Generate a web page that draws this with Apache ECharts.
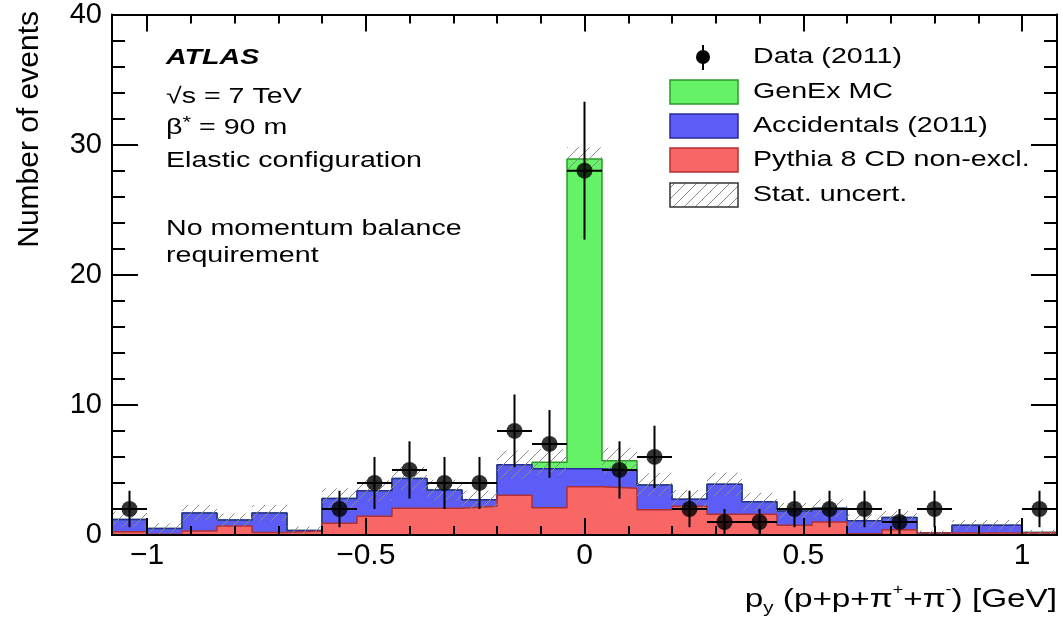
<!DOCTYPE html>
<html>
<head>
<meta charset="utf-8">
<script src="https://cdn.jsdelivr.net/npm/echarts@6/dist/echarts.min.js"></script>
<style>
html, body { margin: 0; padding: 0; background: #fff; }
#chart { width: 1063px; height: 623px; }
</style>
</head>
<body>
<div id="chart"></div>
<script>
// bin centres of the p_y histogram, bin width 0.08 GeV
var binCenters = [-1.04, -0.96, -0.88, -0.80, -0.72, -0.64, -0.56, -0.48, -0.40, -0.32, -0.24, -0.16, -0.08, 0,
                  0.08, 0.16, 0.24, 0.32, 0.40, 0.48, 0.56, 0.64, 0.72, 0.80, 0.88, 0.96, 1.04];
var binWidth = 0.08;

// stacked MC contributions (bottom to top)
var pythiaCD    = [0.25, 0.05, 0.3, 0.7, 0.2, 0.3, 0.9, 1.45, 2.05, 2.05, 2.2, 3.05, 2.1, 3.7,
                   3.6, 1.95, 2.2, 1.6, 1.6, 0.75, 1.0, 0.1, 0.4, 0.15, 0.15, 0.15, 0.2];
var accidentals = [0.95, 0.45, 1.4, 0.45, 1.5, 0.05, 1.9, 1.95, 2.3, 1.4, 0.5, 2.35, 3.0, 1.4,
                   1.4, 1.9, 0.55, 2.3, 0.95, 1.1, 1.05, 1.0, 0.95, 0.0, 0.6, 0.6, 0.0];
var genexMC     = [0, 0, 0, 0, 0, 0, 0, 0, 0, 0, 0, 0, 0.5, 23.8,
                   0.7, 0, 0, 0, 0, 0, 0, 0, 0, 0, 0, 0, 0];
var statUncert  = [0.6, 0.4, 0.6, 0.5, 0.6, 0.3, 0.8, 0.8, 0.9, 0.8, 0.7, 1.1, 1.0, 0.9,
                   1.0, 0.9, 0.7, 0.9, 0.7, 0.6, 0.7, 0.5, 0.5, 0.2, 0.4, 0.4, 0.2];

// data (2011)
var dataCounts  = [2, 0, 0, 0, 0, 0, 2, 4, 5, 4, 4, 8, 7, 28,
                   5, 6, 2, 1, 1, 2, 2, 2, 1, 2, 0, 0, 2];
var dataErrors  = [1.4, 0, 0, 0, 0, 0, 1.4, 2, 2.2, 2, 2, 2.8, 2.6, 5.3,
                   2.2, 2.4, 1.4, 1, 1, 1.4, 1.4, 1.4, 1, 1.4, 0, 0, 1.4];

var xMajorTicks = [-1, -0.5, 0, 0.5, 1];
var xMinorTicks = [-1, -0.9, -0.8, -0.7, -0.6, -0.5, -0.4, -0.3, -0.2, -0.1, 0,
                   0.1, 0.2, 0.3, 0.4, 0.5, 0.6, 0.7, 0.8, 0.9, 1];

var FONT = '"Liberation Sans", Arial, Helvetica, sans-serif';
var colGreen = '#66f266', colBlue = '#5c5cf6', colRed = '#f86666';

// hatch pattern for the stat. uncertainty band
var hatch = (function () {
    var c = document.createElement('canvas');
    c.width = 11; c.height = 11;
    var ctx = c.getContext('2d');
    ctx.strokeStyle = '#8a8a8a';
    ctx.lineWidth = 1;
    ctx.beginPath();
    ctx.moveTo(0, 11); ctx.lineTo(11, 0);
    ctx.moveTo(-1, 1); ctx.lineTo(1, -1);
    ctx.moveTo(10, 12); ctx.lineTo(12, 10);
    ctx.stroke();
    return { image: c, repeat: 'repeat' };
})();

// cumulative stacks
var cumRed = [], cumBlue = [], cumGreen = [];
for (var i = 0; i < binCenters.length; i++) {
    cumRed.push(pythiaCD[i]);
    cumBlue.push(pythiaCD[i] + accidentals[i]);
    cumGreen.push(pythiaCD[i] + accidentals[i] + genexMC[i]);
}

function stepData(vals) {
    var out = binCenters.map(function (c, i) { return [c - binWidth / 2, vals[i]]; });
    out.push([binCenters[binCenters.length - 1] + binWidth / 2, vals[vals.length - 1]]);
    return out;
}

function histSeries(name, vals, fill, line) {
    return {
        name: name, type: 'line', step: 'end', data: stepData(vals),
        symbol: 'none', silent: true, z: 2,
        lineStyle: { color: line, width: 1.5 },
        areaStyle: { color: fill, opacity: 1 }
    };
}

var bandData = binCenters.map(function (c, i) {
    return [c, cumGreen[i] - statUncert[i], cumGreen[i] + statUncert[i]];
});
var pointData = [], errData = [];
binCenters.forEach(function (c, i) {
    if (dataCounts[i] > 0) {
        pointData.push([c, dataCounts[i]]);
        errData.push([c, dataCounts[i], dataErrors[i]]);
    }
});

function txt(x, y, text, extra) {
    var st = { text: text, fontFamily: FONT, fontSize: 22, fill: '#000', align: 'left', verticalAlign: 'middle' };
    for (var k in (extra && extra.style || {})) st[k] = extra.style[k];
    var el = { type: 'text', x: x, y: y, scaleX: 1.3, style: st, z: 20 };
    if (extra) { for (var k2 in extra) if (k2 !== 'style') el[k2] = extra[k2]; }
    return el;
}

var legendRects = [
    { y: 92, fill: colGreen, stroke: '#2a9a2a', label: 'GenEx MC' },
    { y: 126, fill: colBlue, stroke: '#2a2aa0', label: 'Accidentals (2011)' },
    { y: 160, fill: colRed, stroke: '#b03030', label: 'Pythia 8 CD non-excl.' },
    { y: 195, fill: hatch, stroke: '#333', label: 'Stat. uncert.' }
];
var graphics = [
    txt(166, 58, 'ATLAS', { style: { fontWeight: 'bold', fontStyle: 'italic' } }),
    txt(166, 97, '{t|√s = 7 TeV}', { style: { rich: { t: { fontFamily: FONT, fontSize: 22 } } } }),
    txt(166, 128, '{t|β}{u|*}{t| = 90 m}', { style: { rich: {
        t: { fontFamily: FONT, fontSize: 22, lineHeight: 26 },
        u: { fontFamily: FONT, fontSize: 17, lineHeight: 26, verticalAlign: 'top' } } } }),
    txt(166, 161, 'Elastic configuration'),
    txt(166, 229, 'No momentum balance'),
    txt(166, 256, 'requirement'),
    // x-axis title
    txt(1057, 600, '{t|p}{sub|y}{t| (p+p+π}{sup|+}{t|+π}{sup|-}{t|) [GeV]}', { style: {
        align: 'right',
        rich: {
            t: { fontFamily: FONT, fontSize: 26, lineHeight: 34 },
            sub: { fontFamily: FONT, fontSize: 16, lineHeight: 10, verticalAlign: 'bottom' },
            sup: { fontFamily: FONT, fontSize: 14, lineHeight: 30, verticalAlign: 'top' }
        } }, scaleX: 1.28 }),
    // y-axis title
    { type: 'text', x: 30, y: 11, rotation: Math.PI / 2, z: 20,
      style: { text: 'Number of events', fontFamily: FONT, fontSize: 30, fill: '#000', align: 'right', verticalAlign: 'middle' } },
    // legend: data marker
    { type: 'line', z: 20, shape: { x1: 703, y1: 45, x2: 703, y2: 70 }, style: { stroke: '#000', lineWidth: 2 } },
    { type: 'circle', z: 20, shape: { cx: 703, cy: 57, r: 7 }, style: { fill: '#000' } },
    txt(753, 57, 'Data (2011)')
];
legendRects.forEach(function (r) {
    graphics.push({ type: 'rect', z: 20, shape: { x: 670, y: r.y - 12, width: 68, height: 24 },
                    style: { fill: r.fill, stroke: r.stroke, lineWidth: 1.5 } });
    graphics.push(txt(753, r.y, r.label));
});

var axisLineStyle = { color: '#000', width: 2 };
function xAxisDef(pos, ticks, len, labels) {
    return {
        type: 'value', min: -1.08, max: 1.08, position: pos, z: 10,
        axisLine: { show: true, onZero: false, lineStyle: axisLineStyle },
        axisTick: { show: true, inside: true, length: len, customValues: ticks, lineStyle: { color: '#000', width: 2 } },
        axisLabel: labels ? {
            show: true, customValues: ticks, fontFamily: FONT, fontSize: 30, color: '#000', margin: 6,
            formatter: function (v) { return String(v).replace('-', '\u2212'); }
        } : { show: false },
        splitLine: { show: false }
    };
}
function yAxisDef(pos, labels) {
    return {
        type: 'value', min: 0, max: 40, interval: 10, position: pos, z: 10,
        axisLine: { show: true, onZero: false, lineStyle: axisLineStyle },
        axisTick: { show: true, inside: true, length: 26, lineStyle: { color: '#000', width: 2 } },
        minorTick: { show: true, splitNumber: 5, length: 13, lineStyle: { color: '#000', width: 2 } },
        axisLabel: labels ? { show: true, fontFamily: FONT, fontSize: 29, color: '#000', margin: 10 } : { show: false },
        splitLine: { show: false }, minorSplitLine: { show: false }
    };
}

var chart = echarts.init(document.getElementById('chart'));
chart.setOption({
    animation: false,
    backgroundColor: '#fff',
    grid: { left: 112, right: 6, top: 13, bottom: 88, containLabel: false },
    xAxis: [
        xAxisDef('bottom', xMajorTicks, 17, true),
        xAxisDef('bottom', xMinorTicks, 9, false),
        xAxisDef('top', xMajorTicks, 17, false),
        xAxisDef('top', xMinorTicks, 9, false)
    ],
    yAxis: [yAxisDef('left', true), yAxisDef('right', false)],
    series: [
        histSeries('GenEx MC', cumGreen, colGreen, '#2a9a2a'),
        histSeries('Accidentals (2011)', cumBlue, colBlue, '#2a2aa0'),
        histSeries('Pythia 8 CD non-excl.', cumRed, colRed, '#b03030'),
        {
            name: 'Stat. uncert.', type: 'custom', z: 3, silent: true, data: bandData,
            renderItem: function (params, api) {
                var c = api.value(0);
                var p0 = api.coord([c - binWidth / 2, api.value(2)]);
                var p1 = api.coord([c + binWidth / 2, Math.max(0, api.value(1))]);
                return { type: 'rect', shape: { x: p0[0], y: p0[1], width: p1[0] - p0[0], height: p1[1] - p0[1] },
                         style: { fill: hatch } };
            }
        },
        {
            name: 'Data errors', type: 'custom', z: 4, silent: true, data: errData,
            renderItem: function (params, api) {
                var x = api.value(0), y = api.value(1), e = api.value(2);
                var top = api.coord([x, y + e]), bot = api.coord([x, Math.max(0, y - e)]);
                var l = api.coord([x - binWidth / 2, y]), r = api.coord([x + binWidth / 2, y]);
                var st = { stroke: '#000', lineWidth: 2 };
                return { type: 'group', children: [
                    { type: 'line', shape: { x1: top[0], y1: top[1], x2: bot[0], y2: bot[1] }, style: st },
                    { type: 'line', shape: { x1: l[0], y1: l[1], x2: r[0], y2: r[1] }, style: st }
                ] };
            }
        },
        {
            name: 'Data (2011)', type: 'scatter', z: 5, silent: true, data: pointData,
            symbol: 'circle', symbolSize: 16, itemStyle: { color: '#000' }
        }
    ],
    graphic: graphics
});
</script>
</body>
</html>
